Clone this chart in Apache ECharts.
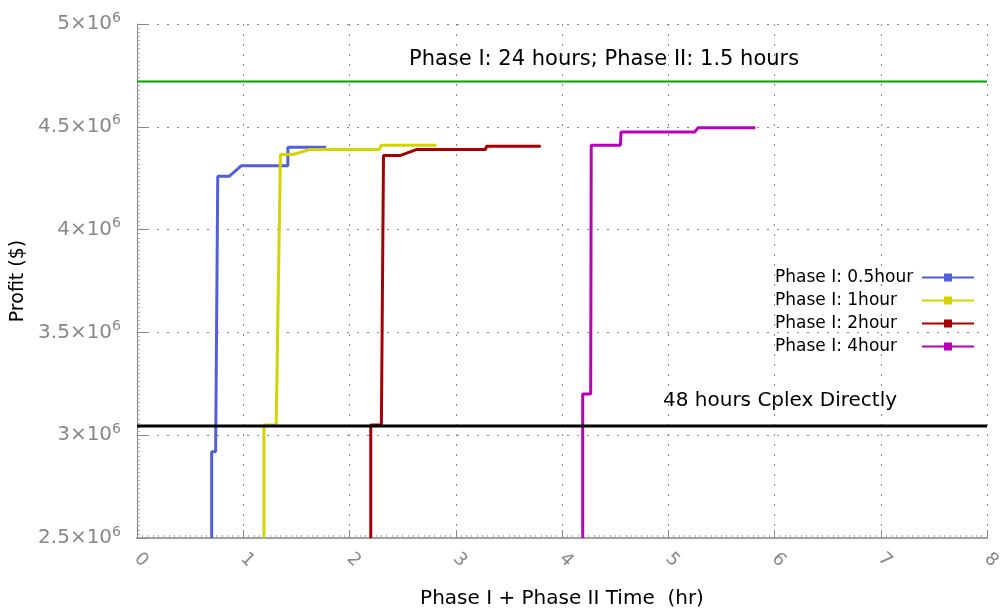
<!DOCTYPE html>
<html>
<head>
<meta charset="utf-8">
<script src="https://cdn.jsdelivr.net/npm/echarts@6/dist/echarts.min.js"></script>
<style>
  html, body { margin: 0; padding: 0; background: #fff; }
  #chart { width: 1007px; height: 611px; }
</style>
</head>
<body>
<div id="chart"></div>
<script>
// ---- data (time in hours, profit in 10^6 $) ----
var xTicks = [0, 1, 2, 3, 4, 5, 6, 7, 8];

var legendNames = ['Phase I: 0.5hour', 'Phase I: 1hour', 'Phase I: 2hour', 'Phase I: 4hour'];

var t05 = [0.703, 0.703, 0.74, 0.76, 0.87, 0.98, 1.42, 1.42, 1.78];
var p05 = [2.5, 2.92, 2.92, 4.26, 4.26, 4.31, 4.31, 4.40, 4.40];

var t1 = [1.195, 1.195, 1.31, 1.35, 1.47, 1.63, 2.28, 2.30, 2.82];
var p1 = [2.5, 3.05, 3.05, 4.365, 4.365, 4.39, 4.39, 4.41, 4.41];

var t2 = [2.20, 2.20, 2.30, 2.32, 2.475, 2.635, 3.28, 3.29, 3.80];
var p2 = [2.5, 3.05, 3.05, 4.36, 4.36, 4.39, 4.39, 4.405, 4.405];

var t4 = [4.195, 4.195, 4.27, 4.275, 4.55, 4.555, 5.25, 5.28, 5.82];
var p4 = [2.5, 3.20, 3.20, 4.41, 4.41, 4.475, 4.475, 4.495, 4.495];

var phase24 = 4.72;   // Phase I: 24 hours; Phase II: 1.5 hours
var cplex48 = 3.045;  // 48 hours Cplex Directly

var colors = ['#5060d8', '#d4d400', '#a80000', '#bb00bb'];

function pairs(t, p) {
  var out = [];
  for (var i = 0; i < t.length; i++) out.push([t[i], p[i] * 1e6]);
  return out;
}

var myChart = echarts.init(document.getElementById('chart'));

var stepSeries = [[t05, p05], [t1, p1], [t2, p2], [t4, p4]].map(function (d, i) {
  return {
    name: legendNames[i],
    type: 'line',
    data: pairs(d[0], d[1]),
    symbol: 'rect',
    symbolSize: 4,
    showSymbol: false,
    color: colors[i],
    lineStyle: { width: 3, color: colors[i] },
    z: 3
  };
});

var option = {
  backgroundColor: '#fff',
  animation: false,
  grid: { left: 137, right: 20, top: 24, bottom: 73, outerBoundsMode: 'none', containLabel: false },
  legend: {
    data: legendNames,
    orient: 'vertical',
    right: 27,
    top: 264,
    align: 'right',
    itemWidth: 52,
    itemHeight: 10,
    itemGap: 6,
    formatter: '{a|{name}}',
    textStyle: {
      rich: { a: { width: 142, align: 'left', fontFamily: 'DejaVu Sans', fontSize: 17, color: '#000' } }
    }
  },
  xAxis: {
    type: 'value',
    min: 0,
    max: 8,
    interval: 1,
    name: 'Phase I + Phase II Time  (hr)',
    nameLocation: 'middle',
    nameGap: 51,
    nameTextStyle: { fontFamily: 'DejaVu Sans', fontSize: 20, color: '#000' },
    axisLine: { lineStyle: { color: '#a0a0a0', width: 2 } },
    axisTick: { inside: true, length: 8, lineStyle: { color: '#888' } },
    minorTick: { show: true, splitNumber: 20, length: 3, lineStyle: { color: '#aaa' } },
    axisLabel: {
      rotate: -45,
      margin: 18,
      fontFamily: 'DejaVu Sans',
      fontSize: 18,
      color: '#888',
      formatter: function (v) { return xTicks.indexOf(v) >= 0 ? String(v) : ''; }
    },
    splitLine: { show: true, lineStyle: { type: [2, 8], color: '#888' } }
  },
  yAxis: {
    type: 'value',
    min: 2.5e6,
    max: 5e6,
    interval: 0.5e6,
    name: 'Profit ($)',
    nameLocation: 'middle',
    nameGap: 107,
    nameTextStyle: { fontFamily: 'DejaVu Sans', fontSize: 19, color: '#000' },
    axisLine: { show: true, lineStyle: { color: '#888', width: 1 } },
    axisTick: { inside: true, length: 10, lineStyle: { color: '#888' } },
    minorTick: { show: true, splitNumber: 25, length: 3, lineStyle: { color: '#aaa' } },
    axisLabel: {
      margin: 16,
      fontFamily: 'DejaVu Sans',
      fontSize: 20,
      color: '#888',
      formatter: function (v) {
        return (v / 1e6) + '×10{sup|6}';
      },
      rich: {
        sup: { fontFamily: 'DejaVu Sans', fontSize: 14, color: '#888', verticalAlign: 'top', padding: [0, 0, 12, 0] }
      }
    },
    splitLine: { show: true, lineStyle: { type: [2, 8], color: '#888' } }
  },
  graphic: [
    { type: 'text', left: 409, top: 49, style: { text: 'Phase I: 24 hours; Phase II: 1.5 hours', font: '21px "DejaVu Sans"', fill: '#000' } },
    { type: 'text', left: 663, top: 391, style: { text: '48 hours Cplex Directly', font: '20px "DejaVu Sans"', fill: '#000' } }
  ],
  series: stepSeries.concat([
    {
      name: 'phase24',
      type: 'line',
      data: [[0, phase24 * 1e6], [8, phase24 * 1e6]],
      showSymbol: false,
      lineStyle: { width: 2, color: '#00a000' },
      z: 2
    },
    {
      name: 'cplex48',
      type: 'line',
      data: [[0, cplex48 * 1e6], [8, cplex48 * 1e6]],
      showSymbol: false,
      lineStyle: { width: 3, color: '#000' },
      z: 4
    }
  ])
};

myChart.setOption(option);
</script>
</body>
</html>
